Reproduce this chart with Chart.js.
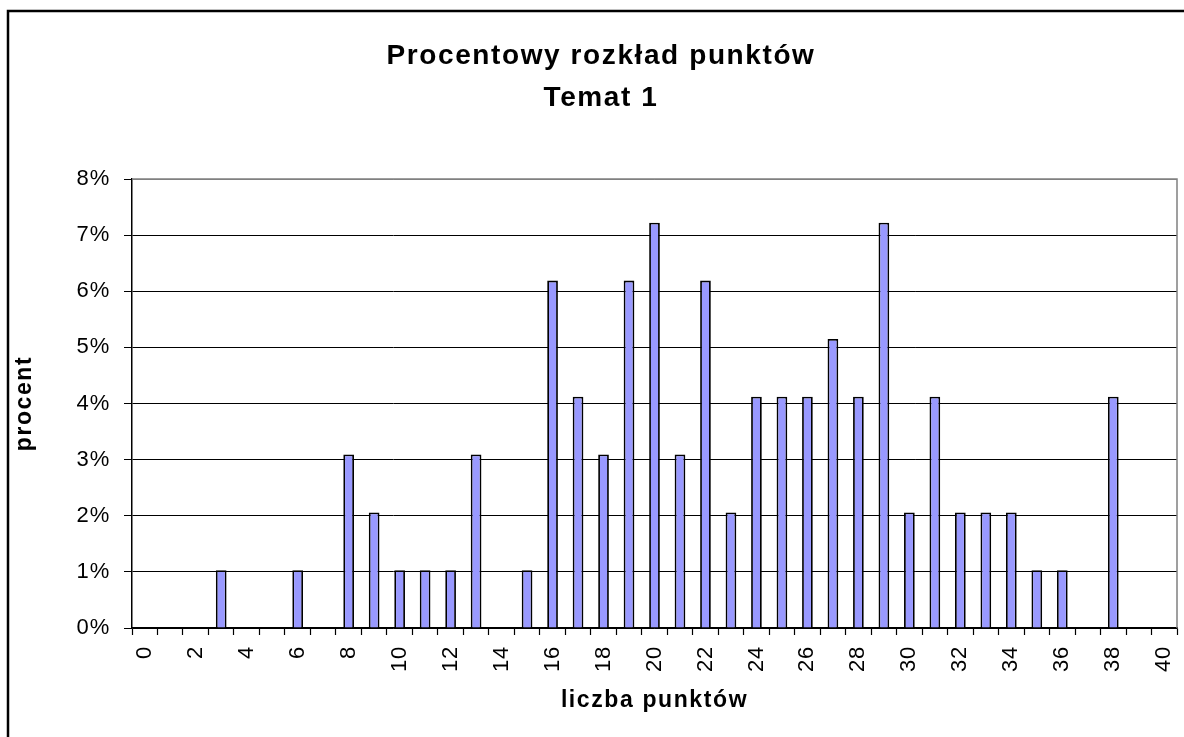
<!DOCTYPE html>
<html>
<head>
<meta charset="utf-8">
<title>Procentowy rozkład punktów</title>
<script src="https://cdn.jsdelivr.net/npm/chart.js@4.4.1/dist/chart.umd.min.js"></script>
<style>
  html, body { margin: 0; padding: 0; background: #fff; }
  #wrap { width: 1184px; height: 737px; }
</style>
</head>
<body>
<div id="wrap"><canvas id="chart" width="1184" height="737"></canvas></div>
<script>
const titleLines = ["Procentowy rozkład punktów", "Temat 1"];
const xTitle = "liczba punktów";
const yTitle = "procent";

// liczba punktów 0..40
const points = ["0", "1", "2", "3", "4", "5", "6", "7", "8", "9", "10",
  "11", "12", "13", "14", "15", "16", "17", "18", "19", "20",
  "21", "22", "23", "24", "25", "26", "27", "28", "29", "30",
  "31", "32", "33", "34", "35", "36", "37", "38", "39", "40"];

// procent uczniow (null = brak slupka)
const percents = [null, null, null, 1.03, null, null, 1.03, null, 3.09, 2.06, 1.03,
  1.03, 1.03, 3.09, null, 1.03, 6.19, 4.12, 3.09, 6.19, 7.22,
  3.09, 6.19, 2.06, 4.12, 4.12, 4.12, 5.15, 4.12, 7.22, 2.06,
  4.12, 2.06, 2.06, 2.06, 1.03, 1.03, null, 4.12, null, null];

const yTicks = [0, 1, 2, 3, 4, 5, 6, 7, 8];

const FONT = "'Liberation Sans', Arial, sans-serif";

// Excel-like spacing: bold texts get wider letter spacing
const spacingPlugin = {
  id: "spacing",
  beforeDraw(chart) {
    const ctx = chart.ctx;
    if (ctx._spaced) return;
    const orig = ctx.fillText.bind(ctx);
    ctx.fillText = function(text, x, y, w) {
      ctx.letterSpacing = /bold|700/.test(ctx.font) ? "1.6px" : "0.8px";
      if (w === undefined) orig(text, x, y); else orig(text, x, y, w);
      ctx.letterSpacing = "0px";
    };
    ctx._spaced = true;
  }
};

// frame and plot border (top/right grey)
const framePlugin = {
  id: "frame",
  beforeDraw(chart) {
    const ctx = chart.ctx;
    ctx.save();
    ctx.strokeStyle = "#000";
    ctx.lineWidth = 2.5;
    ctx.beginPath();
    ctx.moveTo(8, 737);
    ctx.lineTo(8, 11);
    ctx.lineTo(1184, 11);
    ctx.stroke();
    ctx.restore();
  },
  afterDraw(chart) {
    const a = chart.chartArea;
    const ctx = chart.ctx;
    ctx.save();
    ctx.strokeStyle = "#808080";
    ctx.lineWidth = 1.5;
    ctx.beginPath();
    ctx.moveTo(a.left, a.top);
    ctx.lineTo(a.right, a.top);
    ctx.lineTo(a.right, a.bottom);
    ctx.stroke();
    ctx.restore();
  }
};

const ctx = document.getElementById("chart").getContext("2d");

new Chart(ctx, {
  type: "bar",
  data: {
    labels: points,
    datasets: [{
      label: yTitle,
      data: percents,
      backgroundColor: "#9999ff",
      borderColor: "#000",
      borderWidth: 1.8,
      barPercentage: 0.42,
      categoryPercentage: 1
    }]
  },
  options: {
    responsive: false,
    animation: false,
    layout: { padding: { left: 25, right: 7, top: 0, bottom: 0 } },
    plugins: {
      legend: { display: false },
      tooltip: { enabled: false },
      title: {
        display: true,
        text: titleLines,
        color: "#000",
        font: { family: FONT, size: 28, weight: "bold", lineHeight: 1.5 },
        padding: { top: 35, bottom: 60 }
      }
    },
    scales: {
      x: {
        grid: { display: true, drawOnChartArea: false, offset: true, tickLength: 7, tickColor: "#000", tickWidth: 1.2 },
        border: { color: "#000", width: 1.5 },
        ticks: {
          autoSkip: false,
          maxRotation: 90,
          minRotation: 90,
          padding: 11,
          color: "#000",
          font: { family: FONT, size: 22 },
          callback: (v, i) => i % 2 === 0 ? points[i] : ""
        },
        title: {
          display: true,
          text: xTitle,
          color: "#000",
          font: { family: FONT, size: 23, weight: "bold", lineHeight: 1.2 },
          padding: { top: 0, bottom: 23 }
        },
        afterFit: s => {
          s.height = 109;
          s.paddingLeft = 0;
          s.paddingRight = 0;
        }
      },
      y: {
        min: 0,
        max: 8,
        afterBuildTicks: s => { s.ticks = yTicks.map(v => ({ value: v })); },
        grid: {
          color: c => c.tick && c.tick.value === 8 ? "#808080" : "#000",
          lineWidth: 1,
          tickLength: 8,
          tickColor: "#000"
        },
        border: { color: "#000", width: 1.5 },
        ticks: {
          padding: 14,
          color: "#000",
          font: { family: FONT, size: 22 },
          callback: v => v + "%"
        },
        title: {
          display: true,
          text: yTitle,
          color: "#000",
          font: { family: FONT, size: 23, weight: "bold", lineHeight: 1.2 },
          padding: { top: -14, bottom: 0 }
        },
        afterFit: s => { s.width = 107; }
      }
    }
  },
  plugins: [spacingPlugin, framePlugin]
});
</script>
</body>
</html>
